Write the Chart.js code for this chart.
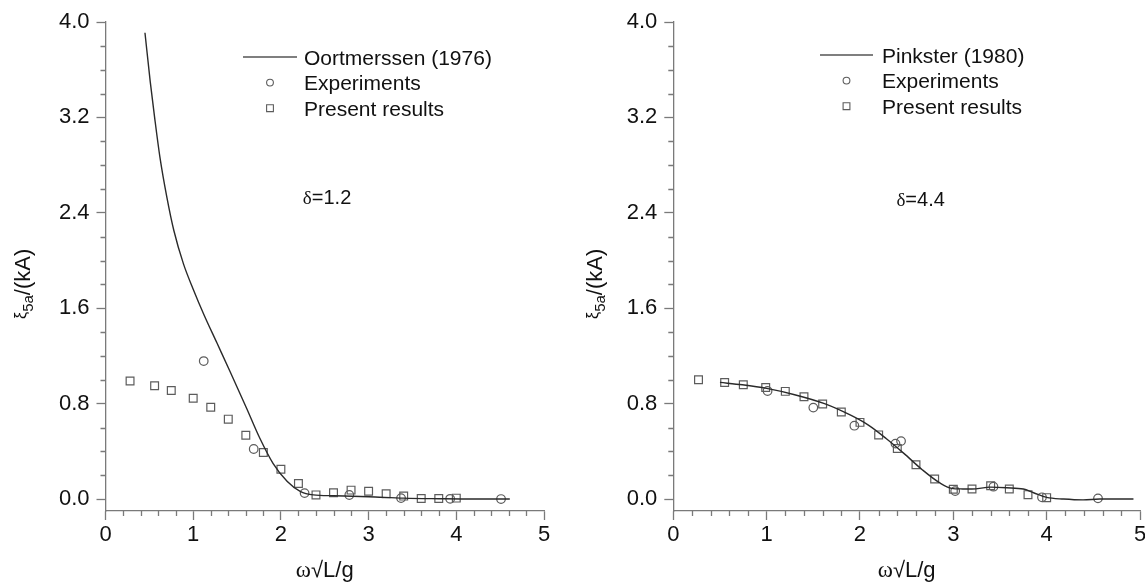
<!DOCTYPE html>
<html><head><meta charset="utf-8">
<script src="https://cdn.jsdelivr.net/npm/chart.js@4.4.1/dist/chart.umd.min.js"></script>
<style>
html,body{margin:0;padding:0;background:#fff;overflow:hidden;width:1145px;height:584px;}
canvas{position:absolute;top:0;}
#c1{left:0;} #c2{left:572px;}
</style></head><body>
<canvas id="c1" width="572" height="584"></canvas>
<canvas id="c2" width="590" height="584"></canvas>
<script>
// ---- tick labels ----
const xTickLabels = ['0','1','2','3','4','5'];
const yTickLabels = ['0.0','0.8','1.6','2.4','3.2','4.0'];

// ---- left panel (delta = 1.2) ----
const oortX = [0.45,0.51,0.56,0.62,0.70,0.78,0.89,1.00,1.12,1.27,1.42,1.61,1.76,1.91,2.07,2.22,2.37,2.60,3.00,3.40,3.80,4.20,4.61];
const oortY = [3.91,3.50,3.20,2.87,2.53,2.25,1.97,1.76,1.55,1.31,1.07,0.76,0.51,0.30,0.15,0.065,0.035,0.028,0.020,0.008,0.003,0.0,0.0];
const expLeftX = [1.12,1.69,2.27,2.78,3.37,3.93,4.51];
const expLeftY = [1.157,0.42,0.05,0.034,0.008,0.002,0.0];
const presLeftX = [0.28,0.56,0.75,1.0,1.2,1.4,1.6,1.8,2.0,2.2,2.4,2.6,2.8,3.0,3.2,3.4,3.6,3.8,4.0];
const presLeftY = [0.99,0.95,0.91,0.845,0.77,0.67,0.535,0.39,0.25,0.13,0.035,0.053,0.075,0.065,0.045,0.025,0.005,0.005,0.008];

// ---- right panel (delta = 4.4) ----
const pinkX = [0.50,0.74,1.00,1.30,1.62,1.90,2.09,2.28,2.47,2.67,2.86,2.98,3.10,3.20,3.40,3.57,3.75,3.86,4.00,4.18,4.39,4.57,4.93];
const pinkY = [0.978,0.958,0.928,0.875,0.80,0.703,0.62,0.508,0.383,0.244,0.133,0.09,0.085,0.084,0.10,0.095,0.084,0.053,0.014,0.0,-0.007,0.0,0.0];
const expRightX = [1.01,1.50,1.94,2.38,2.44,3.02,3.43,3.95,4.55];
const expRightY = [0.906,0.767,0.615,0.465,0.486,0.067,0.104,0.015,0.006];
const presRightX = [0.27,0.55,0.75,0.99,1.2,1.4,1.6,1.8,2.0,2.2,2.4,2.6,2.8,3.0,3.2,3.4,3.6,3.8,4.0];
const presRightY = [1.0,0.978,0.958,0.936,0.903,0.858,0.797,0.73,0.643,0.538,0.424,0.288,0.168,0.082,0.084,0.112,0.085,0.037,0.012];

const leftLineLabel = 'Oortmerssen (1976)';
const rightLineLabel = 'Pinkster (1980)';
const expLabel = 'Experiments';
const presLabel = 'Present results';
const leftNote = '=1.2';
const rightNote = '=4.4';

const SANS = '"Liberation Sans", Arial, Helvetica, sans-serif';
const SERIF = '"Liberation Serif", "Times New Roman", serif';
const AXIS = '#7a7a7a';
const MARK = '#5c5c5c';

function pts(xs, ys){ return xs.map((x,i)=>({x:x, y:ys[i]})); }

const decoPlugin = {
  id: 'deco',
  afterDraw(chart, args, o) {
    const ctx = chart.ctx, xs = chart.scales.x, ys = chart.scales.y, ca = chart.chartArea;
    ctx.save();
    // minor ticks
    ctx.strokeStyle = AXIS; ctx.lineWidth = 1.3;
    const xm = xTickLabels.map(Number), ym = yTickLabels.map(Number);
    ctx.beginPath();
    for (let i=0;i<xm.length-1;i++) for (let k=1;k<5;k++){
      const px = Math.round(xs.getPixelForValue(xm[i]+(xm[i+1]-xm[i])*k/5))+0.5;
      ctx.moveTo(px, ca.bottom); ctx.lineTo(px, ca.bottom+5);
    }
    for (let i=0;i<ym.length-1;i++) for (let k=1;k<4;k++){
      const py = Math.round(ys.getPixelForValue(ym[i]+(ym[i+1]-ym[i])*k/4))+0.5;
      ctx.moveTo(ca.left, py); ctx.lineTo(ca.left-5, py);
    }
    ctx.stroke();

    // legend
    const ds = chart.data.datasets;
    ctx.fillStyle = '#111';
    ctx.font = '21px ' + SANS;
    ctx.textBaseline = 'alphabetic';
    ds.forEach((d, i) => {
      const yc = o.legY + i*o.legGap;
      if (i === 0) {
        ctx.strokeStyle = '#555'; ctx.lineWidth = 1.5;
        ctx.beginPath(); ctx.moveTo(o.legX0, yc); ctx.lineTo(o.legX1, yc); ctx.stroke();
      } else {
        ctx.strokeStyle = MARK; ctx.lineWidth = 1.1;
        const mx = (o.legX0 + o.legX1)/2;
        ctx.beginPath();
        if (d.pointStyle === 'circle') ctx.arc(mx, yc, 3.4, 0, Math.PI*2);
        else ctx.rect(mx-3.4, yc-3.4, 6.8, 6.8);
        ctx.stroke();
      }
      ctx.fillText(d.label, o.legTextX, yc + 7.5);
    });

    // delta annotation
    const nx = xs.getPixelForValue(o.noteX), ny = ys.getPixelForValue(o.noteY);
    ctx.font = '19px ' + SERIF;
    ctx.fillText('\u03b4', nx, ny);
    const dw = ctx.measureText('\u03b4').width;
    ctx.font = '20px ' + SANS;
    ctx.fillText(o.note, nx + dw, ny);

    // x title
    ctx.font = '23px ' + SERIF;
    const w1 = ctx.measureText('\u03c9').width;
    ctx.font = '22px ' + SANS;
    const w2 = ctx.measureText('\u221aL/g').width;
    const cx = (ca.left + ca.right)/2 - (w1+w2)/2;
    ctx.font = '23px ' + SERIF; ctx.fillText('\u03c9', cx, 577);
    ctx.font = '22px ' + SANS; ctx.fillText('\u221aL/g', cx + w1, 577);

    // y title (rotated)
    ctx.translate(30, 319);
    ctx.rotate(-Math.PI/2);
    let p = 0;
    ctx.font = '16px ' + SANS;
    ctx.fillText('\u03be', p, -4); p += ctx.measureText('\u03be').width;
    ctx.font = '15px ' + SANS;
    ctx.fillText('5a', p, 3); p += ctx.measureText('5a').width;
    ctx.font = '22px ' + SANS;
    ctx.fillText('/(kA)', p, 0);
    ctx.restore();
  }
};

function makeChart(id, lineLabel, lx, ly, ex, ey, px, py, padRight, yWidth, deco) {
  return new Chart(document.getElementById(id), {
    type: 'scatter',
    data: { datasets: [
      { label: lineLabel, data: pts(lx, ly), showLine: true, borderColor: '#2a2a2a', borderWidth: 1.4,
        pointRadius: 0, cubicInterpolationMode: 'monotone', fill: false },
      { label: expLabel, data: pts(ex, ey), showLine: false, pointStyle: 'circle', pointRadius: 4.3,
        pointBorderColor: MARK, pointBackgroundColor: 'rgba(0,0,0,0)', pointBorderWidth: 1.2 },
      { label: presLabel, data: pts(px, py), showLine: false, pointStyle: 'rect', pointRadius: 5.5,
        pointBorderColor: MARK, pointBackgroundColor: 'rgba(0,0,0,0)', pointBorderWidth: 1.2 }
    ]},
    options: {
      responsive: false, animation: false, devicePixelRatio: 1,
      layout: { padding: { left: 0, top: 22, right: padRight, bottom: 0 } },
      plugins: { legend: { display: false }, tooltip: { enabled: false }, deco: deco },
      scales: {
        x: {
          type: 'linear', min: 0, max: 5,
          afterBuildTicks: s => { s.ticks = xTickLabels.map(l => ({ value: parseFloat(l) })); },
          afterFit: s => { s.height = 73; },
          ticks: { callback: (v, i) => xTickLabels[i], autoSkip: false, maxRotation: 0,
                   font: { family: SANS, size: 22 }, color: '#111', padding: 2 },
          grid: { drawOnChartArea: false, drawTicks: true, tickLength: 9, tickColor: AXIS, tickWidth: 1.3 },
          border: { display: true, color: AXIS, width: 1.3 }
        },
        y: {
          type: 'linear', min: -0.1, max: 4.0,
          afterBuildTicks: s => { s.ticks = yTickLabels.map(l => ({ value: parseFloat(l) })); },
          afterFit: s => { s.width = yWidth; },
          ticks: { callback: (v, i) => yTickLabels[i], autoSkip: false,
                   font: { family: SANS, size: 22 }, color: '#111', padding: 7 },
          grid: { drawOnChartArea: false, drawTicks: true, tickLength: 9, tickColor: AXIS, tickWidth: 1.3 },
          border: { display: true, color: AXIS, width: 1.3 }
        }
      }
    },
    plugins: [decoPlugin]
  });
}

makeChart('c1', leftLineLabel, oortX, oortY, expLeftX, expLeftY, presLeftX, presLeftY, 28, 105.5,
  { legX0: 243, legX1: 297, legTextX: 304, legY: 57, legGap: 25.6, noteX: 2.25, noteY: 2.47, note: leftNote });
makeChart('c2', rightLineLabel, pinkX, pinkY, expRightX, expRightY, presRightX, presRightY, 22, 101.3,
  { legX0: 248, legX1: 301, legTextX: 310, legY: 55, legGap: 25.6, noteX: 2.39, noteY: 2.46, note: rightNote });
</script>
</body></html>
